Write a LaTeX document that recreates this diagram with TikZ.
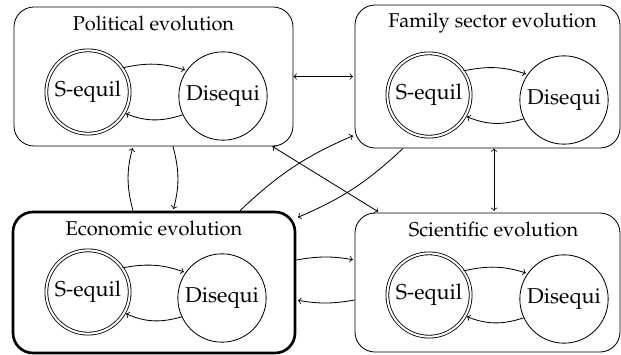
\documentclass[tikz,border=0pt]{standalone}
\usepackage[T1]{fontenc}
\usepackage{mathpazo}
\usepackage{tikz}
\usetikzlibrary{positioning}

\begin{document}
\begin{tikzpicture}[x=0.6pt,y=-0.6pt,shorten >=1pt,node distance=81pt,on grid,
      sector/.style={draw,line width=0.5pt,rounded corners=12pt},
      title/.style={anchor=base,font=\large},
      eqstate/.style={draw,circle,line width=0.5pt,double,double distance=1.2pt,
                      minimum size=50pt,inner sep=0pt,font=\fontsize{12.9}{15}\selectfont},
      disstate/.style={draw,circle,line width=0.5pt,minimum size=53pt,
                       inner sep=0pt,font=\fontsize{12.9}{15}\selectfont},
      link/.style={line width=0.5pt}]
      \useasboundingbox (0,0) rectangle (621,354);
      % the four sectors
      \node[sector, minimum width=167.4pt, minimum height=83.4pt] (pol) at (153.5,76.5) {};
      \node[sector, minimum width=159pt, minimum height=85.8pt] (fam) at (487.5,76.5) {};
      \node[sector, line width=1.6pt, minimum width=169.2pt, minimum height=84.6pt] (eco) at (154,282.5) {};
      \node[sector, minimum width=159pt, minimum height=83.4pt] (sci) at (487.5,282.5) {};
      \node[title] (pol_t) at ([yshift=-14.4pt]pol.north) {Political evolution};
      \node[title] (fam_t) at ([xshift=3pt,yshift=-14pt]fam.north) {Family sector evolution};
      \node[title] (eco_t) at ([yshift=-15pt]eco.north) {Economic evolution};
      \node[title] (sci_t) at ([xshift=3.6pt,yshift=-14.4pt]sci.north) {Scientific evolution};
      % states
      \node[eqstate] (pol_s) at (88,92) {S-equil};
      \node[disstate] (pol_d) [below right=2.4pt and 81pt of pol_s] {Disequi};
      \node[eqstate] (fam_s) at (429,95) {S-equil};
      \node[disstate] (fam_d) [below right=3pt and 81pt of fam_s] {Disequi};
      \node[eqstate] (eco_s) at (88,292) {S-equil};
      \node[disstate] (eco_d) [below right=3.6pt and 80.4pt of eco_s] {Disequi};
      \node[eqstate] (sci_s) at (429,295) {S-equil};
      \node[disstate] (sci_d) [below right=2.4pt and 81pt of sci_s] {Disequi};
      \foreach \b in {pol,fam,eco,sci}
        \path[->, link] (\b_s.35) edge [bend left=15] (\b_d.145)
                        (\b_d.-155) edge [bend left=20] (\b_s.-30);
      % links between sectors
      \draw[<->, link] (pol) -- (fam);
      \path[->, link]
      ([xshift=-12.6pt]eco.north) edge [bend left=15] ([xshift=-12.3pt]pol.south)
      ([xshift=11.7pt]pol.south) edge [bend left=15] ([xshift=11.4pt]eco.north)
      ([xshift=51.6pt]eco.north) edge [bend left=10] ([yshift=-35.1pt]fam.west)
      ([xshift=-50.7pt]fam.south) edge [bend left=10] ([yshift=38.7pt]eco.east)
      ([yshift=13.5pt]eco.east) edge [bend left=10] ([yshift=13.5pt]sci.west)
      ([yshift=-10.5pt]sci.west) edge [bend left=10] ([yshift=-10.5pt]eco.east);
      \draw[<->, link] ([xshift=-12.6pt]pol.south east) -- ([xshift=15pt]sci.north west);
      \draw[<->, link] ([xshift=3.9pt]fam.south) -- ([xshift=3.9pt]sci.north);
    \end{tikzpicture}
\end{document}
